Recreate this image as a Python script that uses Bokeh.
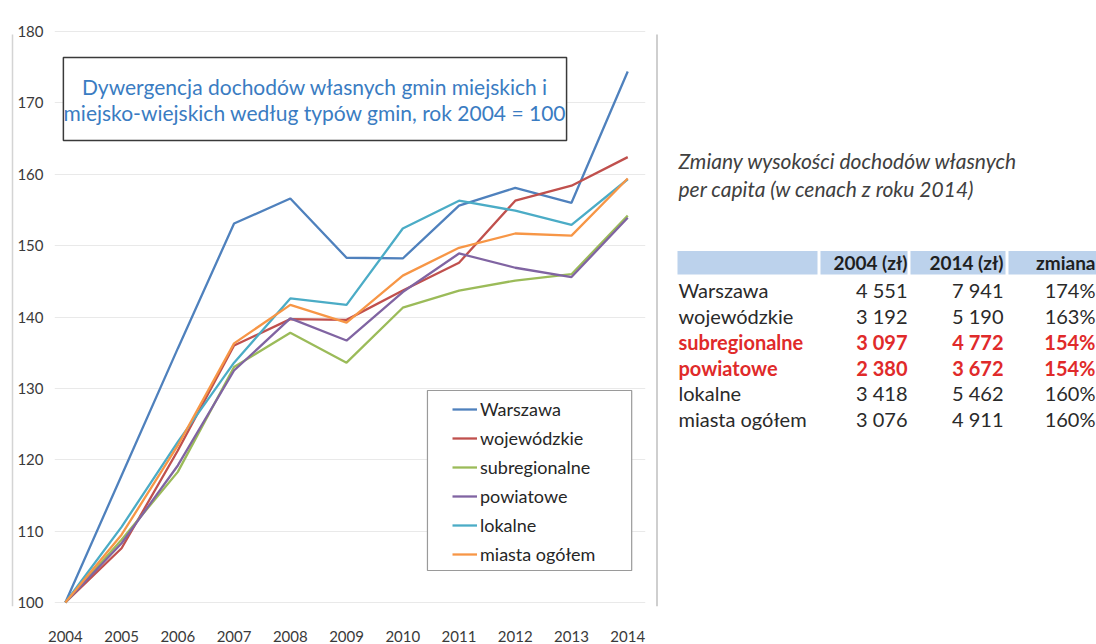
from bokeh.plotting import figure
from bokeh.layouts import row
from bokeh.models import (Range1d, FixedTicker, BoxAnnotation, Label, Legend,
                          LegendItem, ColumnDataSource)
from bokeh.core.properties import value
from bokeh.embed import file_html
from bokeh.resources import INLINE

# ---------------- data ----------------
years = [2004, 2005, 2006, 2007, 2008, 2009, 2010, 2011, 2012, 2013, 2014]
warszawa = [100, 117.8, 135.6, 153.1, 156.6, 148.3, 148.2, 155.6, 158.1, 156.0, 174.4]
wojewodzkie = [100, 107.6, 121.3, 136.0, 139.7, 139.6, 143.7, 147.6, 156.3, 158.4, 162.4]
subregionalne = [100, 108.8, 118.3, 133.0, 137.8, 133.6, 141.3, 143.7, 145.1, 146.0, 154.2]
powiatowe = [100, 108.3, 119.2, 132.5, 139.8, 136.7, 143.5, 148.9, 146.9, 145.6, 153.9]
lokalne = [100, 110.6, 122.5, 133.6, 142.6, 141.7, 152.4, 156.3, 154.9, 152.9, 159.3]
miasta_ogolem = [100, 109.5, 122.0, 136.3, 141.7, 139.2, 145.8, 149.7, 151.7, 151.4, 159.4]

series_names = ["Warszawa", "wojewódzkie", "subregionalne", "powiatowe", "lokalne", "miasta ogółem"]
series_values = [warszawa, wojewodzkie, subregionalne, powiatowe, lokalne, miasta_ogolem]
y_ticks = [100, 110, 120, 130, 140, 150, 160, 170, 180]

chart_title = ["Dywergencja dochodów własnych gmin miejskich i",
               "miejsko-wiejskich według typów gmin, rok 2004 = 100"]

table_title = ["Zmiany wysokości dochodów własnych",
               "per capita  (w cenach z roku 2014)"]
table_header = ["2004 (zł)", "2014 (zł)", "zmiana"]
table_rows = ["Warszawa", "wojewódzkie", "subregionalne", "powiatowe", "lokalne", "miasta ogółem"]
table_2004 = ["4 551", "3 192", "3 097", "2 380", "3 418", "3 076"]
table_2014 = ["7 941", "5 190", "4 772", "3 672", "5 462", "4 911"]
table_change = ["174%", "163%", "154%", "154%", "160%", "160%"]
table_highlight = [False, False, True, True, False, False]

# ---------------- styles ----------------
colors = ["#4F81BD", "#C0504D", "#9BBB59", "#8064A2", "#4BACC6", "#F79646"]
FONT = "Lato"
H = 644

# ---------------- left border strip ----------------
p0 = figure(width=14, height=H, x_range=Range1d(0, 14), y_range=Range1d(H, 0),
            x_axis_type=None, y_axis_type=None, toolbar_location=None,
            output_backend="svg", min_border=0, outline_line_color=None)
p0.segment(x0=[12], y0=[10], x1=[12], y1=[H], line_color="#d4d4d4", line_width=1.5)

# ---------------- chart ----------------
px_per_year = 57.0
px_per_unit = 7.1375
p = figure(width=641, height=H,
           x_range=Range1d(2004 - 11 / px_per_year, 2004 + 588 / px_per_year),
           y_range=Range1d(100 - 4 / px_per_unit, 180 + 6 / px_per_unit),
           toolbar_location=None, output_backend="svg",
           min_border_left=32, min_border_right=10, min_border_top=25,
           min_border_bottom=H - 606, outline_line_color=None)

p.xaxis.ticker = FixedTicker(ticks=years)
p.yaxis.ticker = FixedTicker(ticks=y_ticks)
for ax in (p.xaxis[0], p.yaxis[0]):
    ax.axis_line_color = None
    ax.major_tick_line_color = None
    ax.minor_tick_line_color = None
    ax.major_label_text_font = FONT
    ax.major_label_text_font_size = "15px"
    ax.major_label_text_color = "#3a3a3a"
p.yaxis.major_label_standoff = 5
p.xaxis.major_label_standoff = 18
p.xgrid.grid_line_color = None
p.ygrid.grid_line_color = "#e9e9e9"
p.ygrid.grid_line_width = 1

renderers = []
for name, vals, c in zip(series_names, series_values, colors):
    r = p.line(years, vals, line_color=c, line_width=2.3)
    renderers.append((name, r))

# title box
p.add_layout(BoxAnnotation(left=2004 + (55 - 57) / px_per_year,
                           right=2004 + (565 - 57) / px_per_year,
                           top=100 + (602 - 57) / px_per_unit,
                           bottom=100 + (602 - 140) / px_per_unit,
                           fill_color="white", fill_alpha=1.0,
                           line_color="#3a3a3a", line_alpha=1.0, line_width=1.5))
for i, t in enumerate(chart_title):
    p.add_layout(Label(x=2004 + (310 - 57) / px_per_year,
                       y=100 + (602 - (86 + 26 * i)) / px_per_unit,
                       text=t, text_font=FONT, text_font_size="21px",
                       text_color="#3a7cc2", text_align="center",
                       text_baseline="middle"))

# legend box
p.add_layout(BoxAnnotation(left=2004 + (424 - 57) / px_per_year,
                           right=2004 + (631 - 57) / px_per_year,
                           top=100 + (602 - 390) / px_per_unit,
                           bottom=100 + (602 - 570) / px_per_unit,
                           fill_color="white", fill_alpha=1.0,
                           line_color="#9a9a9a", line_alpha=1.0, line_width=1.2))
legend = Legend(items=[LegendItem(label=n, renderers=[r]) for n, r in renderers],
                location=(393, 36), padding=5, spacing=7, margin=0,
                label_height=20, glyph_height=20, glyph_width=25,
                label_standoff=3, border_line_alpha=0,
                background_fill_alpha=0, label_text_font=FONT,
                label_text_font_size="18px", label_text_color="#262626")
p.add_layout(legend)

# ---------------- table ----------------
X0 = 655
W2 = 1096 - X0
p2 = figure(width=W2, height=H, x_range=Range1d(X0, 1096), y_range=Range1d(H, 0),
            x_axis_type=None, y_axis_type=None, toolbar_location=None,
            output_backend="svg", min_border=0, outline_line_color=None)
p2.segment(x0=[656.5], y0=[10], x1=[656.5], y1=[H], line_color="#cfcfcf", line_width=2)

# headings
p2.text(x=[678, 678], y=[150, 181], text=table_title, text_font=value(FONT),
        text_font_style="italic", text_font_size="21px", text_color="#404040",
        text_baseline="middle", text_align="left")

# header band
p2.quad(left=[677, 820, 910, 1008], right=[817, 907, 1005, 1096],
        top=[250] * 4, bottom=[276] * 4, fill_color="#bcd2ec", line_color=None)
col_right = [907, 1003, 1095]
p2.text(x=col_right, y=[263] * 3, text=table_header, text_font=value(FONT),
        text_font_style="bold", text_font_size="19px", text_color="#1f1f1f",
        text_align="right", text_baseline="middle")

row_y0, row_dy = 293, 28.7
for bold in (False, True):
    idx = [i for i, h in enumerate(table_highlight) if h == bold]
    ys = [row_y0 + i * row_dy for i in idx]
    color = "#e02a2a" if bold else "#2a2a2a"
    style = "bold" if bold else "normal"
    src = ColumnDataSource(dict(
        y=ys,
        lab=[table_rows[i] for i in idx],
        a=[table_2004[i] for i in idx],
        b=[table_2014[i] for i in idx],
        c=[table_change[i] for i in idx],
    ))
    p2.text(x=678, y="y", text="lab", source=src, text_font=value(FONT),
            text_font_style=style, text_font_size="20px", text_color=color,
            text_align="left", text_baseline="middle")
    for xr, col in zip(col_right, ["a", "b", "c"]):
        p2.text(x=xr, y="y", text=col, source=src, text_font=value(FONT),
                text_font_style=style, text_font_size="20px", text_color=color,
                text_align="right", text_baseline="middle")

layout = row(p0, p, p2)
open("out.html", "w").write(file_html(layout, INLINE))
